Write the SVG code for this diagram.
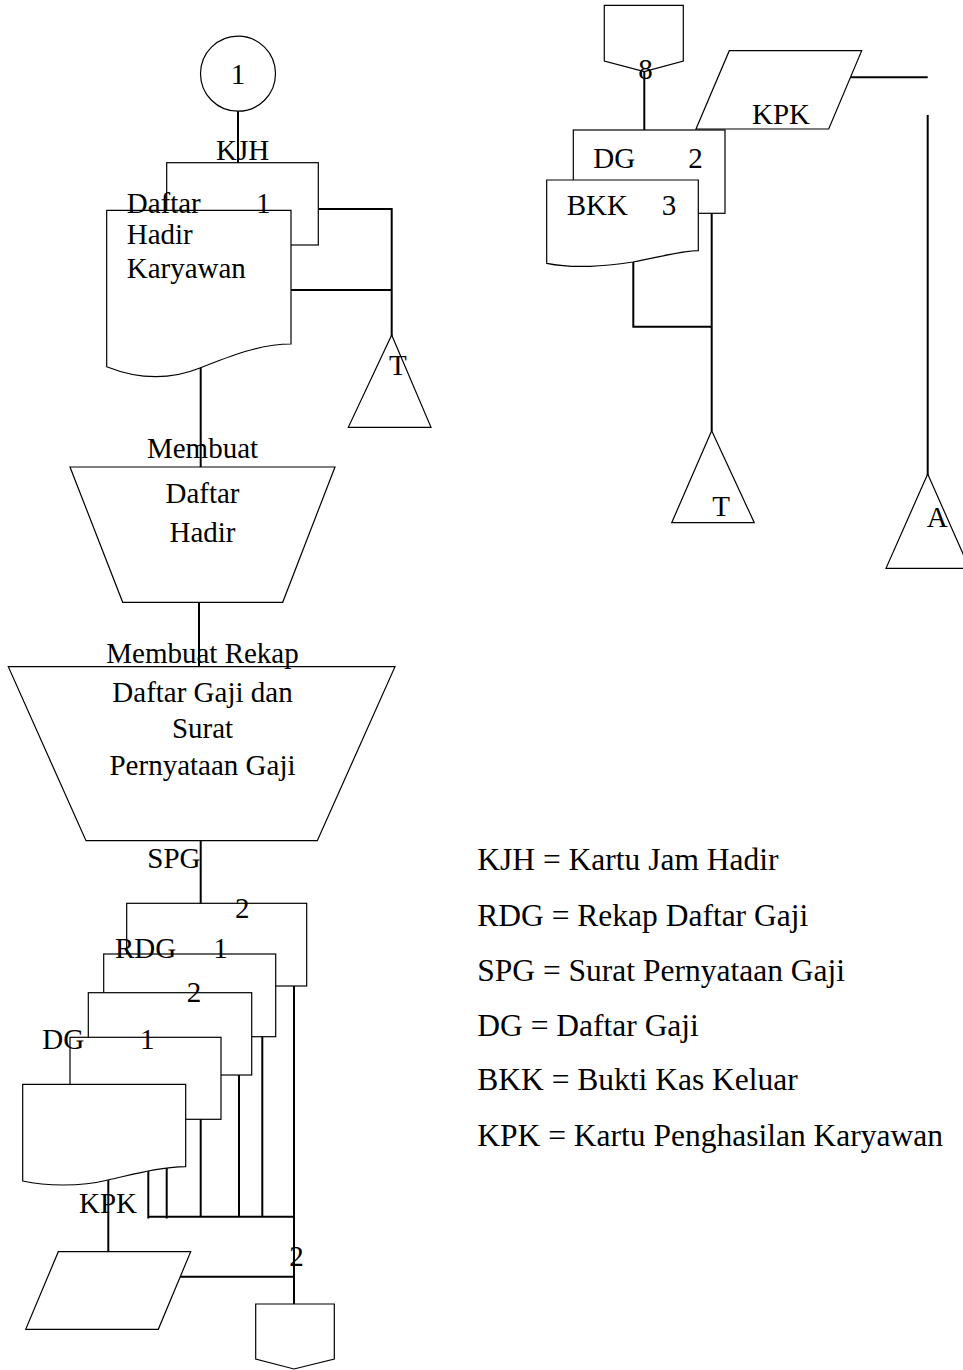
<svg xmlns="http://www.w3.org/2000/svg" width="963" height="1370" viewBox="0 0 963 1370">
<style>
.s{fill:#fff;stroke:#000;stroke-width:1.2}
.c{fill:none;stroke:#000;stroke-width:2}
text{font-family:"Liberation Serif","Times New Roman",serif;font-size:29px;fill:#000}
.m{text-anchor:middle}
.lg{font-size:31.5px}
</style>
<rect width="963" height="1370" fill="#fff"/>
<g id="connectors">
<path class="c" d="M238,111V164"/>
<path class="c" d="M318,209H391.7V336"/>
<path class="c" d="M290,290H391.7"/>
<path class="c" d="M200.7,360V468"/>
<path class="c" d="M199,602V667"/>
<path class="c" d="M200.7,840V904"/>
<path class="c" d="M294,984V1305"/>
<path class="c" d="M262.3,1035V1216.7"/>
<path class="c" d="M239,1073V1216.7"/>
<path class="c" d="M200.7,1117V1216.7"/>
<path class="c" d="M166.7,1160V1218.5"/>
<path class="c" d="M148.3,1160V1218.5"/>
<path class="c" d="M148.3,1216.7H294"/>
<path class="c" d="M108.3,1175V1252"/>
<path class="c" d="M178,1276.7H294"/>
<path class="c" d="M644.3,70V131"/>
<path class="c" d="M850,77.3H927.7"/>
<path class="c" d="M927.7,115V475"/>
<path class="c" d="M633.3,255V326.7H711.7"/>
<path class="c" d="M711.7,212V431"/>
</g>
<g id="start-connector">
<circle class="s" cx="238" cy="73.7" r="37.5"/>
<text class="m" x="238" y="84">1</text>
</g>
<g id="kjh-copy2">
<rect class="s" x="166.7" y="162.7" width="151.6" height="82.3"/>
</g>
<g id="kjh-copy1">
<path class="s" d="M106.7,210.3H291V344C260,344 230,356 200,368C170,380 140,380 106.7,366.7Z"/>
<text x="216" y="160">KJH</text>
<text x="126.7" y="212.7">Daftar</text>
<text x="256" y="212.7">1</text>
<text x="126.7" y="244">Hadir</text>
<text x="126.7" y="278.3">Karyawan</text>
</g>
<g id="archive-t1">
<path class="s" d="M391.7,335L431,427.3H348.3Z"/>
<text x="389" y="375">T</text>
</g>
<g id="proc-daftar-hadir">
<path class="s" d="M70,467H335L282.7,602.3H122.7Z"/>
<text class="m" x="202.5" y="458.3">Membuat</text>
<text class="m" x="202.5" y="503.3">Daftar</text>
<text class="m" x="202.5" y="542.3">Hadir</text>
</g>
<g id="proc-rekap">
<path class="s" d="M8.3,666.7H395L317.3,840.7H86Z"/>
<text class="m" x="202.5" y="663.3">Membuat Rekap</text>
<text class="m" x="202.5" y="701.7">Daftar Gaji dan</text>
<text class="m" x="202.5" y="738.3">Surat</text>
<text class="m" x="202.5" y="775">Pernyataan Gaji</text>
</g>
<g id="spg-2">
<rect class="s" x="126.7" y="903.3" width="180" height="82.7"/>
<text x="147.3" y="868.3">SPG</text>
<text x="235" y="918.3">2</text>
</g>
<g id="rdg-1">
<rect class="s" x="103.7" y="954" width="172" height="82.7"/>
<text x="115" y="957.7">RDG</text>
<text x="213.3" y="957.7">1</text>
</g>
<g id="rdg-2">
<rect class="s" x="88.3" y="992.7" width="163.4" height="82.3"/>
<text x="186.7" y="1001.7">2</text>
</g>
<g id="dg-1">
<rect class="s" x="70" y="1037.3" width="151" height="82"/>
<text x="42.3" y="1049.3">DG</text>
<text x="140" y="1049.3">1</text>
</g>
<g id="dg-front">
<path class="s" d="M22.7,1084.3H185.7V1166.7C160,1167 135,1174 108,1180C80,1187 45,1186 22.7,1181Z"/>
<text x="79" y="1213.3">KPK</text>
</g>
<g id="kpk-input">
<path class="s" d="M58.3,1251.7H190.7L158.3,1329.3H25.7Z"/>
<text x="289.3" y="1265.7">2</text>
</g>
<g id="offpage-2">
<path class="s" d="M255.7,1304H334.3V1359L294,1369L255.7,1359Z"/>
</g>
<g id="offpage-8">
<path class="s" d="M604.3,5.3H683.3V61L644.3,71.7L604.3,61Z"/>
<text x="638.3" y="79">8</text>
</g>
<g id="kpk-doc">
<path class="s" d="M729.3,50.7H861.7L828.7,129H696Z"/>
<text x="752" y="124">KPK</text>
</g>
<g id="dg-2">
<rect class="s" x="573.3" y="130" width="151.7" height="83.3"/>
<text x="593.3" y="168.3">DG</text>
<text x="688.3" y="168.3">2</text>
</g>
<g id="bkk-3">
<path class="s" d="M546.7,180H698.3V250.7C680,251 660,257 633,262C605,266 575,269 546.7,263.3Z"/>
<text x="566.7" y="215">BKK</text>
<text x="661.7" y="215">3</text>
</g>
<g id="archive-t2">
<path class="s" d="M711.7,430.7L754.3,522.7H671.7Z"/>
<text x="712.3" y="516">T</text>
</g>
<g id="archive-a">
<path class="s" d="M927.7,474L969.4,568.3H886Z"/>
<text x="926.7" y="526.7">A</text>
</g>
<g id="legend">
<text class="lg" x="477.3" y="870">KJH = Kartu Jam Hadir</text>
<text class="lg" x="477.3" y="925.7">RDG = Rekap Daftar Gaji</text>
<text class="lg" x="477.3" y="981">SPG = Surat Pernyataan Gaji</text>
<text class="lg" x="477.3" y="1035.7">DG = Daftar Gaji</text>
<text class="lg" x="477.3" y="1090">BKK = Bukti Kas Keluar</text>
<text class="lg" x="477.3" y="1145.5">KPK = Kartu Penghasilan Karyawan</text>
</g>
</svg>
